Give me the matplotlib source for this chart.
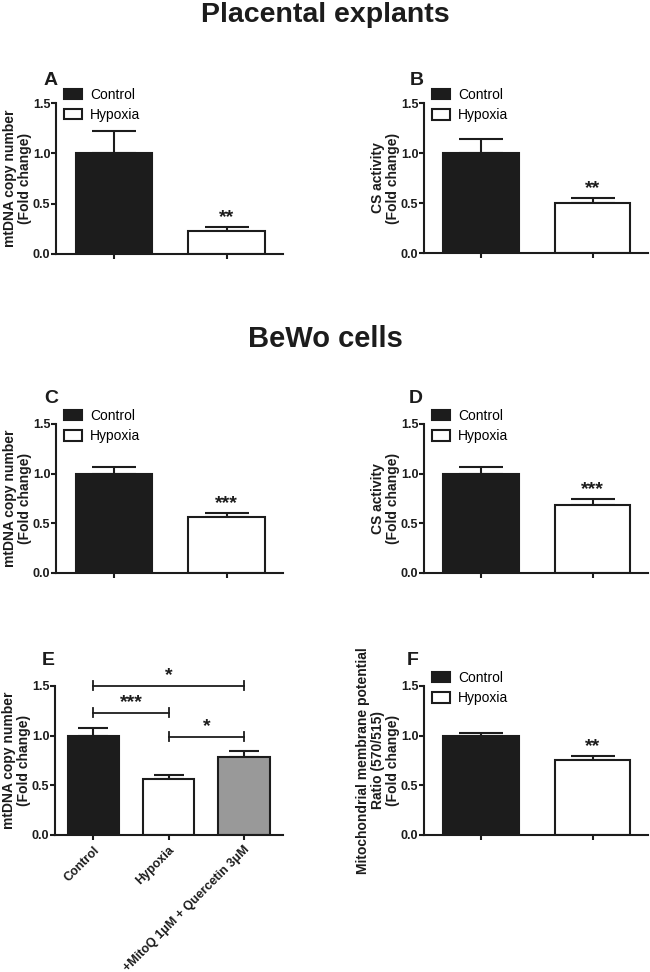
import numpy as np
import matplotlib.pyplot as plt

plt.rcParams['font.family'] = ['Liberation Sans', 'DejaVu Sans']

groups = ['Control', 'Hypoxia']

# panel A: placental explants, mtDNA copy number
a_mean = [1.0, 0.23]
a_err = [0.225, 0.035]
# panel B: placental explants, CS activity
b_mean = [1.0, 0.50]
b_err = [0.14, 0.05]
# panel C: BeWo, mtDNA copy number
c_mean = [1.0, 0.56]
c_err = [0.065, 0.04]
# panel D: BeWo, CS activity
d_mean = [1.0, 0.68]
d_err = [0.065, 0.06]
# panel E: BeWo with MitoQ + Quercetin
e_labels = ['Control', 'Hypoxia', '+MitoQ 1\u03bcM + Quercetin 3\u03bcM']
e_mean = [1.0, 0.565, 0.785]
e_err = [0.075, 0.04, 0.065]
e_pairs = [(0, 2), (0, 1), (1, 2)]
e_pair_y = [1.5, 1.232, 0.99]
e_pair_sig = ['*', '***', '*']
# panel F: mitochondrial membrane potential
f_mean = [1.0, 0.75]
f_err = [0.025, 0.045]

stars = {'A': '**', 'B': '**', 'C': '***', 'D': '***', 'F': '**'}

fill = ['#1c1c1c', 'white', '#999999']
ink = '#1c1c1c'

fig = plt.figure(figsize=(6.5, 9.72), dpi=100)


def style_axis(ax):
    ax.spines['top'].set_visible(False)
    ax.spines['right'].set_visible(False)
    for s in ['left', 'bottom']:
        ax.spines[s].set_linewidth(1.5)
        ax.spines[s].set_color(ink)
    ax.set_ylim(0, 1.5)
    ax.set_yticks([0, 0.5, 1.0, 1.5])
    ax.set_yticklabels(['0.0', '0.5', '1.0', '1.5'])
    ax.tick_params(axis='both', direction='out', length=3.5, width=1.5,
                   color=ink, labelsize=9, pad=0.5)
    for t in ax.get_yticklabels():
        t.set_fontweight('bold')
        t.set_color(ink)


def letter(ax, s, x, y):
    ax.text(x, y, s, transform=ax.transAxes, fontsize=14,
            fontweight='bold', color=ink, ha='center', va='center')


def two_bar_panel(rect, mean, err, ylabel, key, lx, ly):
    ax = fig.add_axes(rect)
    x = np.arange(len(mean))
    bars = ax.bar(x, mean, width=0.68, color=fill[:2], edgecolor=ink,
                  linewidth=1.5, zorder=2)
    ax.errorbar(x, mean, yerr=[np.zeros(len(err)), err], fmt='none',
                ecolor=ink, elinewidth=1.5, capsize=16, capthick=1.5, zorder=1)
    ax.set_xlim(-0.515, 1.5)
    ax.set_xticks(x)
    ax.set_xticklabels([])
    style_axis(ax)
    ax.set_ylabel(ylabel, fontsize=10, fontweight='bold', color=ink,
                  linespacing=1.05, labelpad=1)
    ax.annotate(stars[key], (1, mean[1] + err[1]), xytext=(0, 1),
                textcoords='offset points', ha='center', va='bottom',
                fontsize=14, fontweight='bold', color=ink)
    letter(ax, key, lx, ly)
    ax.legend(bars, groups, loc='upper left', bbox_to_anchor=(0.035, 1.10),
              frameon=False, fontsize=10, handlelength=1.3, handleheight=0.75,
              labelspacing=0.45, handletextpad=0.6, borderpad=0,
              borderaxespad=0)
    return ax


h = 0.1533
two_bar_panel([0.0862, 0.7387, 0.349, 0.1553], a_mean, a_err,
              'mtDNA copy number\n(Fold change)', 'A', -0.026, 1.152)
two_bar_panel([0.6523, 0.7397, 0.345, 0.1543], b_mean, b_err,
              'CS activity\n(Fold change)', 'B', -0.031, 1.152)
two_bar_panel([0.0862, 0.4105, 0.349, h], c_mean, c_err,
              'mtDNA copy number\n(Fold change)', 'C', -0.022, 1.168)
two_bar_panel([0.6523, 0.4105, 0.345, h], d_mean, d_err,
              'CS activity\n(Fold change)', 'D', -0.036, 1.168)
two_bar_panel([0.6523, 0.141, 0.345, h], f_mean, f_err,
              'Mitochondrial membrane potential\nRatio (570/515)\n(Fold change)',
              'F', -0.05, 1.174)

# panel E
ax = fig.add_axes([0.0846, 0.141, 0.351, h])
x = np.arange(len(e_mean))
ax.bar(x, e_mean, width=0.68, color=fill, edgecolor=ink, linewidth=1.5, zorder=2)
ax.errorbar(x, e_mean, yerr=[np.zeros(len(e_err)), e_err], fmt='none',
            ecolor=ink, elinewidth=1.5, capsize=11, capthick=1.5, zorder=1)
ax.set_xlim(-0.51, 2.52)
ax.set_xticks(x)
ax.set_xticklabels(e_labels, rotation=45, ha='right', rotation_mode='anchor',
                   fontsize=10, fontweight='bold', color=ink)
style_axis(ax)
ax.tick_params(axis='x', pad=3)
ax.set_ylabel('mtDNA copy number\n(Fold change)', fontsize=10,
              fontweight='bold', color=ink, linespacing=1.05, labelpad=1)
for (i, j), yb, sig in zip(e_pairs, e_pair_y, e_pair_sig):
    ax.plot([i, j], [yb, yb], color=ink, lw=1.3, clip_on=False)
    for xe in (i, j):
        ax.plot([xe, xe], [yb - 0.045, yb + 0.045], color=ink, lw=1.3,
                clip_on=False)
    ax.annotate(sig, ((i + j) / 2, yb), xytext=(0, 1),
                textcoords='offset points', ha='center', va='bottom',
                fontsize=14, fontweight='bold', color=ink, annotation_clip=False)
letter(ax, 'E', -0.03, 1.174)

fig.text(0.5, 0.985, 'Placental explants', ha='center', va='center',
         fontsize=20.5, fontweight='bold', color=ink)
fig.text(0.5, 0.651, 'BeWo cells', ha='center', va='center',
         fontsize=21, fontweight='bold', color=ink)

fig.savefig('out.png', dpi=100, facecolor='white')
